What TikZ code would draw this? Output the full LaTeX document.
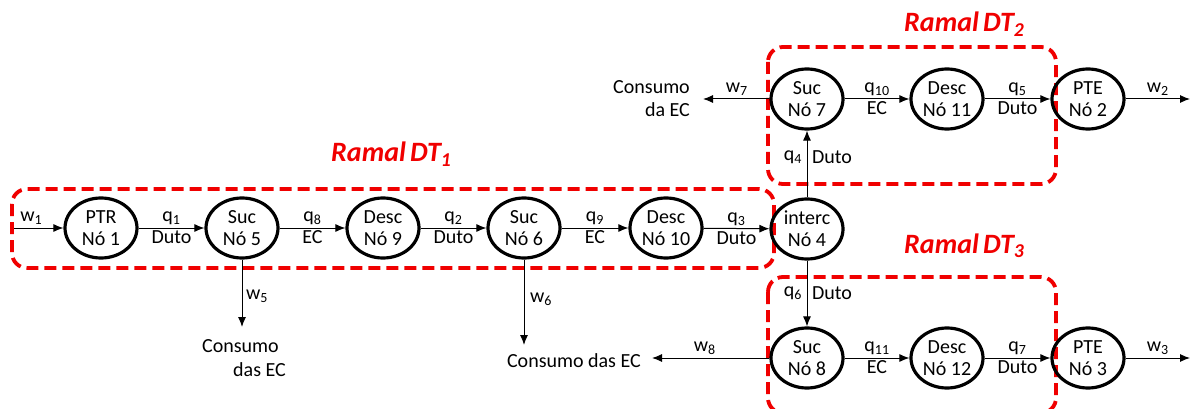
\documentclass[tikz,border=0pt]{standalone}
\usepackage{fontspec}
\setmainfont{Carlito}
\usetikzlibrary{shapes.geometric,arrows.meta}
\definecolor{ramalred}{RGB}{240,0,0}
\tikzset{
  nd/.style={ellipse, draw, line width=3.2pt, minimum width=72pt, minimum height=60pt, inner sep=0pt, align=center, font=\fontsize{20}{22}\selectfont},
  flow/.style={-{Latex[length=10pt,width=8pt]}, line width=1pt},
  lab/.style={inner sep=2.5pt, font=\fontsize{20}{22}\selectfont},
  txt/.style={inner sep=0pt, font=\fontsize{20}{23}\selectfont},
  ramal/.style={draw=ramalred, line width=3.8pt, dash pattern=on 12pt off 6pt, rounded corners=15pt},
  rtitle/.style={inner sep=0pt, text=ramalred, font=\fontsize{28}{30}\selectfont\bfseries\itshape}
}
\begin{document}
\begin{tikzpicture}[x=1pt,y=-1pt]
\useasboundingbox (0,0) rectangle (1192,409);
\begin{scope}
\clip (0,0) rectangle (1192,409);
% ramal boxes
\draw[ramal] (12,189) rectangle (774,268);
\draw[ramal] (768,47) rectangle (1056,184);
\draw[ramal] (768,277) rectangle (1056,413);
\end{scope}
% titles
\node[rtitle, anchor=base west] (t1) at (331,162) {Ramal\hspace{-0.08em} DT\textsubscript{1}};
\node[rtitle, anchor=base west] (t2) at (904,32) {Ramal\hspace{-0.08em} DT\textsubscript{2}};
\node[rtitle, anchor=base west] (t3) at (904,253) {Ramal\hspace{-0.08em} DT\textsubscript{3}};
% nodes
\node[nd] (n1) at (101,228) {PTR\\Nó 1};
\node[nd] (n5) at (242,228) {Suc\\Nó 5};
\node[nd] (n9) at (383,228) {Desc\\Nó 9};
\node[nd] (n6) at (524,228) {Suc\\Nó 6};
\node[nd] (n10) at (666,228) {Desc\\Nó 10};
\node[nd] (n4) at (807,229) {interc\\Nó 4};
\node[nd] (n7) at (807,99) {Suc\\Nó 7};
\node[nd] (n11) at (947,99) {Desc\\Nó 11};
\node[nd] (n2) at (1088,99) {PTE\\Nó 2};
\node[nd] (n8) at (807,358) {Suc\\Nó 8};
\node[nd] (n12) at (947,358) {Desc\\Nó 12};
\node[nd] (n3) at (1088,358) {PTE\\Nó 3};
% free ends
\coordinate (w1s) at (14,228);
\coordinate (w2e) at (1190,99);
\coordinate (w3e) at (1190,358);
\coordinate (w7e) at (703,99);
\coordinate (w8e) at (652,358);
\coordinate (w5e) at (242,327);
\coordinate (w6e) at (524,345);
% main row
\draw[flow] (w1s) -- node[lab, above, pos=0.35] {w\textsubscript{1}} (n1);
\draw[flow] (n1) -- node[lab, above] {q\textsubscript{1}} node[lab, below] {Duto} (n5);
\draw[flow] (n5) -- node[lab, above] {q\textsubscript{8}} node[lab, below] {EC} (n9);
\draw[flow] (n9) -- node[lab, above] {q\textsubscript{2}} node[lab, below] {Duto} (n6);
\draw[flow] (n6) -- node[lab, above] {q\textsubscript{9}} node[lab, below] {EC} (n10);
\draw[flow] (n10) -- node[lab, above] {q\textsubscript{3}} node[lab, below] {Duto} (n4);
% vertical
\draw[flow] (n4) -- node[lab, left=2pt, pos=0.6] {q\textsubscript{4}} node[lab, right=2pt, pos=0.6] {Duto} (n7);
\draw[flow] (n4) -- node[lab, left=2pt, pos=0.5] {q\textsubscript{6}} node[lab, right=2pt, pos=0.5] {Duto} (n8);
% top row
\draw[flow] (n7) -- node[lab, above] {q\textsubscript{10}} node[lab, below] {EC} (n11);
\draw[flow] (n11) -- node[lab, above] {q\textsubscript{5}} node[lab, below] {Duto} (n2);
\draw[flow] (n2) -- node[lab, above] {w\textsubscript{2}} (w2e);
\draw[flow] (n7) -- node[lab, above, pos=0.49] {w\textsubscript{7}} (w7e);
% bottom row
\draw[flow] (n8) -- node[lab, above] {q\textsubscript{11}} node[lab, below] {EC} (n12);
\draw[flow] (n12) -- node[lab, above] {q\textsubscript{7}} node[lab, below] {Duto} (n3);
\draw[flow] (n3) -- node[lab, above] {w\textsubscript{3}} (w3e);
\draw[flow] (n8) -- node[lab, above, pos=0.55] {w\textsubscript{8}} (w8e);
% consumption
\draw[flow] (n5) -- node[lab, right=1pt, pos=0.55] {w\textsubscript{5}} (w5e);
\draw[flow] (n6) -- node[lab, right=3pt, pos=0.46] {w\textsubscript{6}} (w6e);
\node[txt, anchor=east, align=right] (c7) at (690,99) {Consumo\\da EC};
\node[txt, anchor=east] (c8) at (641,361) {Consumo das EC};
\node[txt, anchor=west] (c5a) at (202,346) {Consumo};
\node[txt, anchor=west] (c5b) at (233,370) {das EC};
\end{tikzpicture}
\end{document}
